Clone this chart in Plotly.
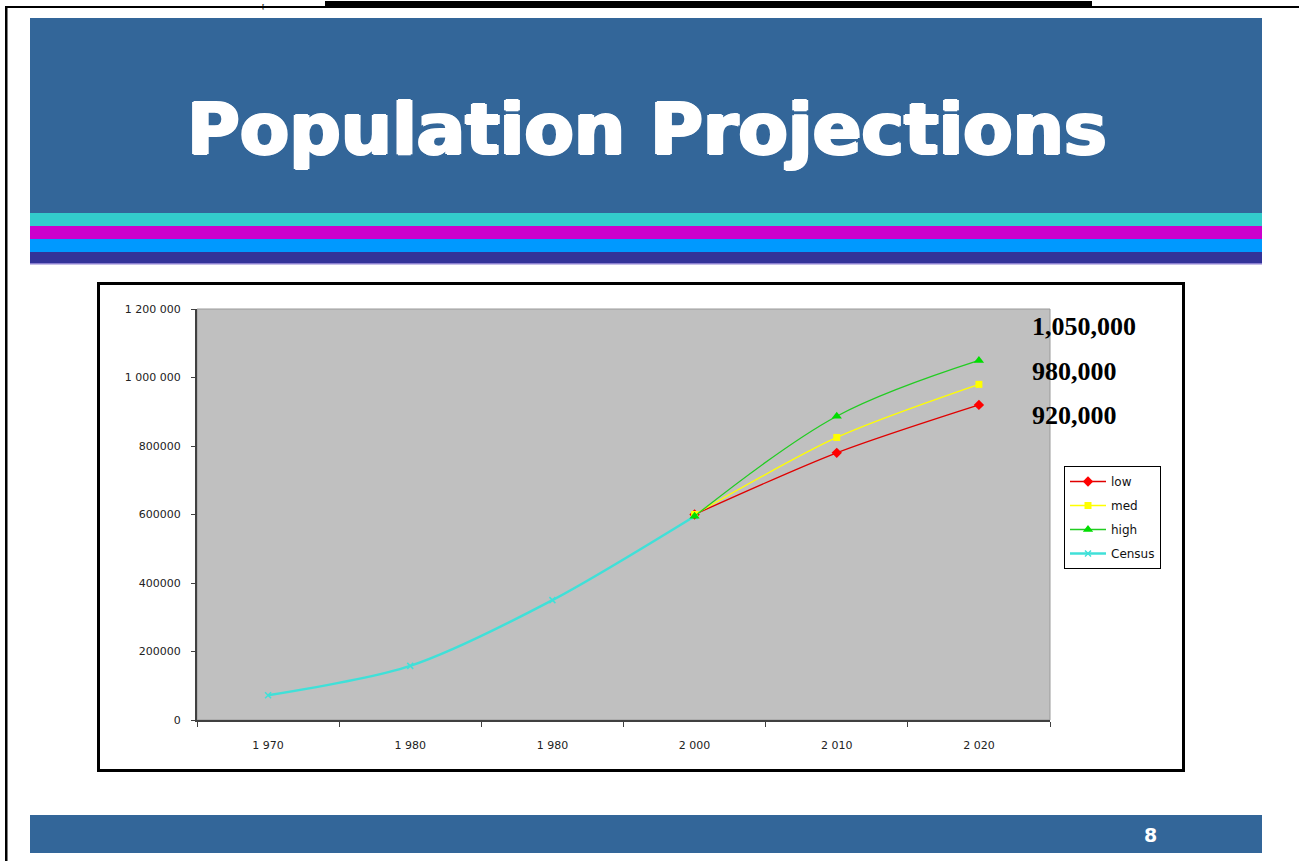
import plotly.graph_objects as go

W, H = 1299, 861

# ---- data ----
x_pos = [0, 1, 2, 3, 4, 5]
year_labels = ["1 970", "1 980", "1 980", "2 000", "2 010", "2 020"]
census = [72000, 158000, 350000, 595000, None, None]
low = [None, None, None, 600000, 780000, 920000]
med = [None, None, None, 600000, 825000, 980000]
high = [None, None, None, 595000, 887000, 1050000]
y_tick_vals = [0, 200000, 400000, 600000, 800000, 1000000, 1200000]
y_tick_text = ["0", "200000", "400000", "600000", "800000", "1 000 000", "1 200 000"]
end_labels = ["1,050,000", "980,000", "920,000"]
title_text = "Population Projections"
page_number = "8"


def px(x):
    return x / W


def py(y):
    return 1 - y / H


fig = go.Figure()

fig.add_trace(go.Scatter(
    x=x_pos, y=census, name="Census", mode="lines+markers",
    line=dict(color="#40E0D8", width=2.5, shape="spline", smoothing=0.8),
    marker=dict(symbol="x-thin", size=6, color="#40E0D8", line=dict(color="#40E0D8", width=1.5)),
    legendrank=4, legendgroup="d"))
fig.add_trace(go.Scatter(
    x=x_pos, y=low, name="low", mode="lines+markers",
    line=dict(color="#E00000", width=1.3, shape="spline", smoothing=0.8),
    marker=dict(symbol="diamond", size=8, color="#FF0000"),
    legendrank=1, legendgroup="a"))
fig.add_trace(go.Scatter(
    x=x_pos, y=med, name="med", mode="lines+markers",
    line=dict(color="#FFFF00", width=1.3, shape="spline", smoothing=0.8),
    marker=dict(symbol="square", size=7, color="#FFFF00"),
    legendrank=2, legendgroup="b"))
fig.add_trace(go.Scatter(
    x=x_pos, y=high, name="high", mode="lines+markers",
    line=dict(color="#22CC22", width=1.3, shape="spline", smoothing=1.0),
    marker=dict(symbol="triangle-up", size=9, color="#00DD00"),
    legendrank=3, legendgroup="c"))

shapes = []
# page border lines
shapes.append(dict(type="rect", xref="paper", yref="paper", x0=px(5), x1=px(1299), y0=py(8), y1=py(6),
                   fillcolor="black", line=dict(width=0), layer="below"))
shapes.append(dict(type="rect", xref="paper", yref="paper", x0=px(325), x1=px(1092), y0=py(7), y1=py(1),
                   fillcolor="black", line=dict(width=0), layer="below"))
shapes.append(dict(type="rect", xref="paper", yref="paper", x0=px(5), x1=px(7.5), y0=py(861), y1=py(6),
                   fillcolor="black", line=dict(width=0), layer="below"))
# header band
shapes.append(dict(type="rect", xref="paper", yref="paper", x0=px(30), x1=px(1262), y0=py(213), y1=py(18),
                   fillcolor="#336699", line=dict(width=0), layer="below"))
stripes = [(213, 226, "#33CCCC"), (226, 239, "#CC00CC"), (239, 252, "#0099FF"), (252, 263, "#333399")]
for y0, y1, c in stripes:
    shapes.append(dict(type="rect", xref="paper", yref="paper", x0=px(30), x1=px(1262), y0=py(y1), y1=py(y0),
                       fillcolor=c, line=dict(width=0), layer="below"))
shapes.append(dict(type="rect", xref="paper", yref="paper", x0=px(30), x1=px(1262), y0=py(264.5), y1=py(263),
                   fillcolor="#8A7FD0", line=dict(width=0), layer="below"))
# footer band
shapes.append(dict(type="rect", xref="paper", yref="paper", x0=px(30), x1=px(1262), y0=py(853), y1=py(815),
                   fillcolor="#336699", line=dict(width=0), layer="below"))
# chart frame
shapes.append(dict(type="rect", xref="paper", yref="paper", x0=px(98.5), x1=px(1183.5), y0=py(770.5), y1=py(283.5),
                   fillcolor="rgba(0,0,0,0)", line=dict(color="black", width=3), layer="above"))
# plot area border
shapes.append(dict(type="rect", xref="paper", yref="paper", x0=px(197), x1=px(1050), y0=py(720), y1=py(309),
                   fillcolor="rgba(0,0,0,0)", line=dict(color="#9A9A9A", width=1), layer="below"))

annotations = []
annotations.append(dict(text=title_text, x=px(647), y=py(129), xref="paper", yref="paper",
                        xanchor="center", yanchor="middle", showarrow=False,
                        font=dict(family="DejaVu Sans", size=72, color="white", weight="bold",
                                  shadow="1.6px 0 0 #ffffff, -1.6px 0 0 #ffffff, 0 1px 0 #ffffff, 0 -1px 0 #ffffff")))
for txt, yc in zip(end_labels, [326, 371, 415]):
    annotations.append(dict(text=txt, x=px(1030), y=py(yc), xref="paper", yref="paper",
                            xanchor="left", yanchor="middle", showarrow=False,
                            font=dict(family="Liberation Serif", size=26, color="black", weight="bold")))
annotations.append(dict(text=page_number, x=px(1150), y=py(835), xref="paper", yref="paper",
                        xanchor="center", yanchor="middle", showarrow=False,
                        font=dict(family="DejaVu Sans", size=19, color="white", weight="bold")))
annotations.append(dict(text="[", x=px(263), y=1, xref="paper", yref="paper",
                        xanchor="center", yanchor="top", showarrow=False,
                        font=dict(family="Liberation Serif", size=7, color="black", weight="bold")))

fig.update_layout(
    width=W, height=H,
    margin=dict(l=0, r=0, t=0, b=0, pad=0, autoexpand=False),
    paper_bgcolor="white",
    plot_bgcolor="#C0C0C0",
    showlegend=True,
    legend=dict(x=px(1064), y=py(466), xanchor="left", yanchor="top",
                bgcolor="white", bordercolor="black", borderwidth=1,
                font=dict(family="DejaVu Sans", size=12, color="#111"),
                itemwidth=36,
                traceorder="grouped", tracegroupgap=5),
    shapes=shapes,
    annotations=annotations,
    xaxis=dict(domain=[px(197), px(1050)], range=[-0.5, 5.5], tickmode="array",
               tickvals=x_pos, ticktext=year_labels, ticks="", showgrid=False, zeroline=False,
               showline=True, linecolor="#404040", linewidth=2,
               ticklabelstandoff=14, automargin=False,
               tickfont=dict(family="DejaVu Sans", size=11, color="#222"),
               minor=dict(tickmode="array", tickvals=[-0.5, 0.5, 1.5, 2.5, 3.5, 4.5, 5.5],
                          ticks="outside", ticklen=5, tickcolor="#404040", tickwidth=1, showgrid=False)),
    yaxis=dict(domain=[py(720), py(309)], range=[0, 1200000], tickmode="array",
               tickvals=y_tick_vals, ticktext=y_tick_text, ticks="outside", ticklen=4,
               tickcolor="#404040", showgrid=False, zeroline=False,
               showline=True, linecolor="#404040", linewidth=2,
               ticklabelstandoff=8, automargin=False,
               tickfont=dict(family="DejaVu Sans", size=11, color="#222")),
)

fig.write_html("out.html")
